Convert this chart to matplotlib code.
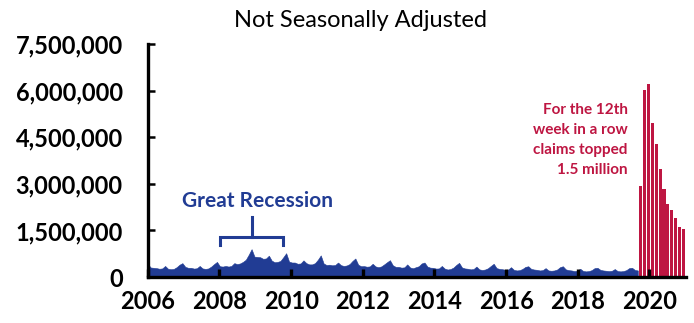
import numpy as np
import matplotlib.pyplot as plt

# weekly initial claims, not seasonally adjusted (thousands), one value per month
# Jan 2006 .. early Mar 2020
claims_2006 = [420, 310, 300, 290, 270, 280, 360, 270, 255, 265, 320, 400]
claims_2007 = [450, 330, 300, 300, 275, 285, 360, 280, 265, 280, 340, 420]
claims_2008 = [490, 350, 340, 360, 340, 360, 450, 420, 440, 490, 560, 720]
claims_2009 = [900, 660, 650, 640, 590, 600, 690, 530, 480, 490, 520, 640]
claims_2010 = [770, 500, 470, 470, 430, 440, 540, 450, 410, 410, 450, 560]
claims_2011 = [700, 440, 390, 400, 380, 390, 470, 385, 360, 375, 420, 520]
claims_2012 = [600, 400, 350, 355, 335, 345, 430, 345, 320, 345, 410, 480]
claims_2013 = [545, 380, 330, 330, 305, 315, 410, 310, 285, 320, 350, 440]
claims_2014 = [470, 340, 305, 300, 275, 280, 360, 275, 245, 260, 305, 390]
claims_2015 = [460, 310, 280, 270, 250, 260, 340, 250, 230, 245, 285, 360]
claims_2016 = [430, 290, 265, 255, 235, 245, 320, 235, 215, 225, 265, 330]
claims_2017 = [350, 265, 245, 235, 215, 225, 290, 215, 205, 215, 245, 320]
claims_2018 = [350, 250, 225, 215, 195, 205, 270, 200, 185, 195, 225, 290]
claims_2019 = [300, 235, 215, 205, 195, 205, 260, 195, 185, 195, 225, 290]
claims_2020 = [300, 230, 215]

# the 12 covid weeks (weeks ending Mar 21 .. Jun 6, 2020)
covid_claims = [2920160, 6015821, 6211399, 4971823, 4267395, 3489255,
                2849085, 2346392, 2174087, 1899094, 1620000, 1540000]

year_labels = ["2006", "2008", "2010", "2012", "2014", "2016", "2018", "2020"]
y_ticks = [0, 1500000, 3000000, 4500000, 6000000, 7500000]

blue = "#213C94"
red = "#BE1642"

monthly = (claims_2006 + claims_2007 + claims_2008 + claims_2009 + claims_2010
           + claims_2011 + claims_2012 + claims_2013 + claims_2014 + claims_2015
           + claims_2016 + claims_2017 + claims_2018 + claims_2019 + claims_2020)
values = np.array(monthly) * 1000
dates = 2006 + np.arange(len(values)) / 12.0

plt.rcParams["font.family"] = ["Lato", "DejaVu Sans"]

fig = plt.figure(figsize=(6.94, 3.23), dpi=100)
ax = fig.add_axes([0.213, 0.142, 0.775, 0.722])

ax.fill_between(dates, 0, values, color=blue, linewidth=0.4, edgecolor=blue)

# covid bars are wider than a week in the original (separate category axis)
bar_start = dates[-1] + 0.02
bar_step = 0.1133
bar_x = bar_start + (np.arange(len(covid_claims)) + 0.5) * bar_step
ax.bar(bar_x, covid_claims, width=bar_step * 0.8, color=red, linewidth=0)

ax.set_xlim(2006, 2021.55)
ax.set_ylim(0, 7500000)
tick_step = 2.072
ax.set_xticks([2006 + tick_step * i for i in range(len(year_labels))])
ax.set_xticklabels(year_labels)
ax.set_yticks(y_ticks)
ax.set_yticklabels([f"{v:,}" for v in y_ticks])

for s in ["top", "right"]:
    ax.spines[s].set_visible(False)
for s in ["left", "bottom"]:
    ax.spines[s].set_linewidth(2.4)
ax.tick_params(axis="x", direction="in", length=6, width=2.4, pad=9,
               labelsize=17, labelcolor="black")
ax.tick_params(axis="y", direction="in", length=5, width=1.8, pad=18,
               labelsize=17)
for lab in ax.get_xticklabels() + ax.get_yticklabels():
    lab.set_fontweight("bold")

fig.text(0.52, 0.935, "Not Seasonally Adjusted", ha="center", va="center",
         fontsize=17)

ax.text(2009.18, 2440000, "Great Recession", ha="center", va="center",
        fontsize=15, fontweight="bold", color=blue)
# bracket over the recession
ax.plot([2008.08, 2008.08, 2009.9, 2009.9], [1030000, 1285000, 1285000, 1030000],
        color=blue, linewidth=2.2, solid_joinstyle="miter")
ax.plot([2009.0, 2009.0], [1285000, 1930000], color=blue, linewidth=2.2)

ax.text(2019.87, 4400000, "For the 12th\nweek in a row\nclaims topped\n1.5 million",
        ha="right", va="center", fontsize=11, fontweight="bold", color=red,
        linespacing=1.55)

fig.savefig("out.png", dpi=100)
